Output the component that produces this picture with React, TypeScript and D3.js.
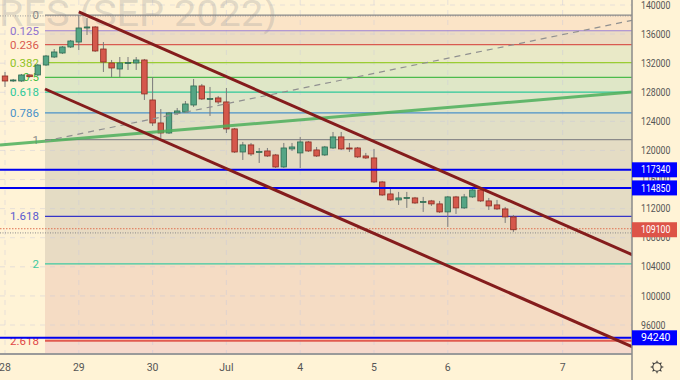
import React from 'react';
import * as d3 from 'd3';

const W = 680;
const H = 380;
const PLOT_R = 632;
const PLOT_B = 354;

// ---- candle data (hourly bars) ----
const opens = [130240,129620,129550,130380,130380,131750,132850,133400,134230,134910,136840,136980,133950,132030,131200,132030,132030,132440,126940,123780,122400,125150,125290,126250,128870,127080,127220,126670,122960,119790,120760,119790,119930,119380,117730,120210,119660,121170,120070,119380,120340,121860,120340,120340,119240,118970,115670,114020,113200,113470,113470,112920,113060,112650,111550,113610,112100,113610,114570,113060,112510,111960,110860];
const highs = [130790,129830,130520,130450,131890,133130,133950,134360,135190,138630,138210,137110,134910,132440,132850,132850,132850,132580,130100,125700,125290,125840,126800,129830,129140,128730,127490,128590,123090,121170,121030,120340,120340,119520,121030,121030,121860,121310,120480,120620,122540,122540,121030,120480,119660,120210,115810,114710,114300,114300,113610,113610,113200,113060,113750,113750,114020,114980,114710,113470,113200,112230,111130];
const lows = [128730,129420,129420,130000,130240,131610,132710,133260,134090,133810,135880,133540,130790,130100,130100,131070,131070,126940,123370,121720,122270,124880,125150,125980,126940,124740,126390,122400,119660,118690,119240,118280,119110,117590,117590,119930,117590,119790,119110,119240,120210,120070,119790,118970,118830,115530,113750,113060,112510,112100,112650,111550,112370,111410,109480,111270,111960,113470,112920,111820,111820,110030,108800];
const closes = [129550,129690,130380,130150,131750,132990,133540,134230,135050,136840,136980,133680,132160,131340,132030,132100,132440,127770,123780,122400,125150,125430,126390,128870,127080,127150,126670,122960,119790,120760,119520,119860,119240,117730,120340,120480,121170,119930,119240,120480,121860,120210,120270,119110,118970,115670,113880,113200,113470,113540,112780,112990,112650,111550,113610,112100,113610,114570,113060,112370,111960,110860,109100];

// ---- axes ----
const dayLabels = ['28', '29', '30', 'Jul', '4', '5', '6', '7'];
const dayIndex = [0, 9, 18, 27, 36, 45, 54, 68];
const priceTicks = [96000, 100000, 104000, 108000, 112000, 116000, 120000, 124000, 128000, 132000, 136000, 140000];

// ---- fibonacci retracement ----
const fibHigh = 138600;
const fibLow = 121500;
const fibStartIndex = 4.88;
const fibRatios = [0, 0.125, 0.236, 0.382, 0.5, 0.618, 0.786, 1, 1.618, 2, 2.618];
const fibLabels = ['0', '0.125', '0.236', '0.382', '0.5', '0.618', '0.786', '1', '1.618', '2', '2.618'];

// ---- horizontal levels ----
const hLevels = [117340, 114850, 94240];
const lastPrice = 109100;
const topDotted = 138500;
const prevDotted = 108800;

// ---- trend lines [index, price] ----
const upperChannel = [[9.0, 139050], [76.52, 105650]];
const lowerChannel = [[4.88, 128450], [76.52, 92990]];
const greenTrend = [[-0.61, 120760], [76.52, 128040]];
const dashedTrend = [[4.88, 121300], [76.52, 137900]];

// styles
const fibLineColors = ['#8a8a8a', '#9b7fd4', '#d95a50', '#9acd32', '#4cbb4c', '#2fca99', '#4a92c9', '#8a8a8a', '#3535c8', '#3dc9a0', '#e05a50'];
const fibLabelColors = ['#8a8a8a', '#8f74d0', '#d95a50', '#8fc31f', '#3fbf3f', '#2fca99', '#4a92c9', '#8a8a8a', '#5a5ad0', '#3dc9a0', '#e04848'];
const fibFills = ['#fbe4c7', '#ecdcc3', '#e9e9c7', '#e1e9c6', '#dfe7c7', '#dfe4c8', '#e1dfc6', '#e4dcc4', '#e8dbc3', '#f5dcc4', '#f6d9cc'];

const BG = '#fff3d6';
const FONT = 'Roboto, "Liberation Sans", sans-serif';

export default function App() {
  const x = d3.scaleLinear().domain([0, 62]).range([5, 513.4]);
  const y = d3.scaleLinear().domain([96000, 140000]).range([325, 5]);

  const fibPrices = fibRatios.map((r) => fibHigh - r * (fibHigh - fibLow));
  const fibX0 = x(fibStartIndex);
  const line = d3.line<number[]>().x((d) => x(d[0])).y((d) => y(d[1]));

  const green = '#55a585';
  const greenStroke = '#2f6b52';
  const red = '#d5584c';
  const redStroke = '#8b2c22';

  return (
    <svg width={W} height={H} style={{ position: 'absolute', left: 0, top: 0, fontFamily: FONT }}>
      <defs>
        <clipPath id="plot">
          <rect x={0} y={0} width={PLOT_R} height={PLOT_B} />
        </clipPath>
      </defs>
      <rect x={0} y={0} width={W} height={H} fill={BG} />
      <g clipPath="url(#plot)">
        {/* fib fills */}
        {fibPrices.map((p, k) => {
          const y0 = y(p);
          const y1 = k < fibPrices.length - 1 ? y(fibPrices[k + 1]) : PLOT_B;
          return <rect key={'ff' + k} x={fibX0} y={y0} width={PLOT_R - fibX0} height={y1 - y0} fill={fibFills[k]} />;
        })}
        {/* grid */}
        {priceTicks.map((p) => (
          <line key={'hg' + p} x1={0} x2={PLOT_R} y1={y(p)} y2={y(p)} stroke="#c8c8dc" strokeOpacity={0.45} strokeDasharray="5,5" />
        ))}
        {dayIndex.map((d) => (
          <line key={'vg' + d} x1={x(d)} x2={x(d)} y1={0} y2={PLOT_B} stroke="#c8c8dc" strokeOpacity={0.45} strokeDasharray="5,5" />
        ))}
        {/* watermark */}
        <text x={-1} y={26} fontSize={37} fill="#9a9a9a" fillOpacity={0.3} textLength={278} lengthAdjust="spacingAndGlyphs" fontFamily={FONT}>
          RES (SEP 2022)
        </text>
        {/* top dotted */}
        <line x1={0} x2={PLOT_R} y1={y(topDotted)} y2={y(topDotted)} stroke="#9a9a9a" strokeDasharray="1,1.5" />
        {/* fib lines */}
        {fibPrices.map((p, k) => (
          <line key={'fl' + k} x1={fibX0} x2={PLOT_R} y1={y(p)} y2={y(p)} stroke={fibLineColors[k]} strokeWidth={k === 10 ? 2 : 1.2} />
        ))}
        {/* fib labels */}
        {fibPrices.map((p, k) => (
          <text key={'fx' + k} x={39} y={y(p)} dy="0.35em" textAnchor="end" fontSize={11.5} fill={fibLabelColors[k]}>
            {fibLabels[k]}
          </text>
        ))}
        {/* price dotted lines */}
        <line x1={0} x2={PLOT_R} y1={y(lastPrice) - 1} y2={y(lastPrice) - 1} stroke="#e07050" strokeDasharray="1.5,1.5" />
        <line x1={0} x2={PLOT_R} y1={y(prevDotted) + 1} y2={y(prevDotted) + 1} stroke="#8a8a8a" strokeDasharray="1,1.5" />
        {/* candles */}
        {opens.map((o, i) => {
          const c = closes[i];
          const up = c >= o;
          const cx = x(i);
          const top = y(Math.max(o, c));
          const bot = y(Math.min(o, c));
          return (
            <g key={'c' + i}>
              <line x1={cx} x2={cx} y1={y(highs[i])} y2={y(lows[i])} stroke="#7a7a7a" strokeWidth={1} />
              <rect x={cx - 2.75} y={top} width={5.5} height={Math.max(1, bot - top)} fill={up ? green : red} stroke={up ? greenStroke : redStroke} strokeWidth={0.8} />
            </g>
          );
        })}
        {/* horizontal blue levels */}
        {hLevels.map((p) => (
          <line key={'hl' + p} x1={0} x2={PLOT_R} y1={y(p)} y2={y(p)} stroke="#0000f0" strokeWidth={2} />
        ))}
        {/* trend lines */}
        <path d={line(greenTrend) || ''} stroke="#4caf5a" strokeOpacity={0.85} strokeWidth={3} fill="none" />
        <path d={line(dashedTrend) || ''} stroke="#909090" strokeWidth={1.2} strokeDasharray="6,5" fill="none" />
        <path d={line(upperChannel) || ''} stroke="#841c1c" strokeWidth={3} fill="none" />
        <path d={line(lowerChannel) || ''} stroke="#841c1c" strokeWidth={3} fill="none" />
      </g>
      {/* axes lines */}
      <line x1={0} x2={PLOT_R} y1={PLOT_B} y2={PLOT_B} stroke="#9a9a9a" strokeWidth={2} />
      <line x1={PLOT_R} x2={PLOT_R} y1={0} y2={H} stroke="#8a8a8a" strokeWidth={1.5} />
      {/* price ticks */}
      {priceTicks.map((p) => (
        <text key={'pt' + p} x={641} y={y(p)} dy="0.35em" fontSize={10.5} fill="#555" textLength={String(p).length * 4.9} lengthAdjust="spacingAndGlyphs">
          {p}
        </text>
      ))}
      {/* price boxes */}
      {hLevels.map((p) => (
        <g key={'pb' + p}>
          <rect x={632} y={y(p) - 7.5} width={45} height={15} fill="#0000ff" />
          <text x={641} y={y(p)} dy="0.35em" fontSize={10.5} fill="#fff" textLength={29.4} lengthAdjust="spacingAndGlyphs">
            {p}
          </text>
        </g>
      ))}
      <rect x={632} y={y(lastPrice) - 7.5} width={45} height={15} fill="#dd5448" />
      <text x={641} y={y(lastPrice)} dy="0.35em" fontSize={10.5} fill="#fff" textLength={29.4} lengthAdjust="spacingAndGlyphs">
        {lastPrice}
      </text>
      {/* day labels */}
      {dayLabels.map((t, k) => (
        <text key={'dl' + k} x={x(dayIndex[k])} y={367} dy="0.35em" textAnchor="middle" fontSize={10.5} fill="#555">
          {t}
        </text>
      ))}
      {/* gear icon */}
      <g transform="translate(657,367)" stroke="#333" fill="none" strokeWidth={1.1}>
        <circle r={4.2} />
        {d3.range(8).map((k) => {
          const a = (k * Math.PI) / 4;
          return <line key={'g' + k} x1={Math.cos(a) * 4.2} y1={Math.sin(a) * 4.2} x2={Math.cos(a) * 6.3} y2={Math.sin(a) * 6.3} />;
        })}
      </g>
    </svg>
  );
}
